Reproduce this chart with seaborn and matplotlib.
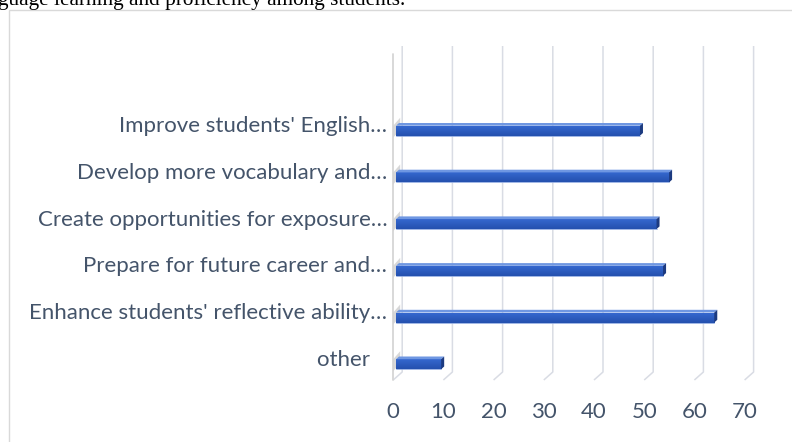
import matplotlib
matplotlib.use("Agg")
import matplotlib.pyplot as plt
import numpy as np
import pandas as pd
import seaborn as sns
from matplotlib.transforms import ScaledTranslation
from matplotlib.patches import Polygon, Rectangle

# ---- data -------------------------------------------------------------
categories = [
    "Improve students' English\u2026",
    "Develop more vocabulary and\u2026",
    "Create opportunities for exposure\u2026",
    "Prepare for future career and\u2026",
    "Enhance students' reflective ability\u2026",
    "other   ",
]
values = [48.6, 54.4, 51.9, 53.2, 63.4, 9.0]
x_ticks = [0, 10, 20, 30, 40, 50, 60, 70]
caption = "guage learning and proficiency among students."

# ---- styling ----------------------------------------------------------
W, H, DPI = 792, 442, 100
TXT = "#44546A"
GRID = "#D9DCE4"
FACE_TOP, FACE_BOT = "#3568CF", "#2450AE"
TOP_FACE = "#6F97E2"
SIDE_FACE = "#1C3A80"

sns.set_theme(style="white")
plt.rcParams["font.family"] = ["Lato", "DejaVu Sans"]

fig = plt.figure(figsize=(W / DPI, H / DPI), dpi=DPI)
fig.patch.set_facecolor("white")

# plot geometry (pixels)
PX0 = 393.2      # front-plane zero
PXU = 5.02       # pixels per unit on the value axis
XMAX = 76
TOP, BOT = 46, 380
ROW = 46.7
FIRST = 124.2
ax = fig.add_axes([PX0 / W, 1 - BOT / H, XMAX * PXU / W, (BOT - TOP) / H])

df = pd.DataFrame({"category": categories, "value": values})
sns.barplot(data=df, x="value", y="category", orient="h", width=10 / ROW,
            color=FACE_TOP, saturation=1, linewidth=0, ax=ax, zorder=3)

y_top = -(FIRST - TOP) / ROW
y_bot = (BOT - FIRST) / ROW
ax.set_xlim(0, XMAX)
ax.set_ylim(y_bot, y_top)

# conversions pixel -> data
ux = 1 / PXU
uy = 1 / ROW

# back-wall gridlines with floor return
BACK_DX, BACK_DY = 9, 8
for v in x_ticks:
    ax.plot([v + BACK_DX * ux, v + BACK_DX * ux, v],
            [y_top, y_bot - BACK_DY * uy, y_bot],
            color=GRID, lw=1.1, zorder=0, clip_on=False, solid_capstyle="butt")
# side wall
ax.plot([0, 0], [y_top + BACK_DY * uy, y_bot], color="#D6D6D6", lw=1.3,
        zorder=0, clip_on=False)

# bars: shift into the depth slot and add 3-D faces
shift = ScaledTranslation(2.8 / DPI, -6.5 / DPI, fig.dpi_scale_trans)
bar_tr = ax.transData + shift
DDX, DDY = 3 * ux, -2.7 * uy
grad = np.linspace(0, 1, 64).reshape(-1, 1)
cmap = matplotlib.colors.LinearSegmentedColormap.from_list("face", [FACE_TOP, FACE_BOT])
for p in list(ax.patches):
    p.set_transform(bar_tr)
    p.set_clip_on(False)
    x0, y0, w, h = p.get_x(), p.get_y(), p.get_width(), p.get_height()
    # gradient on front face
    im = ax.imshow(grad, cmap=cmap, aspect="auto", extent=(x0, x0 + w, y0 + h, y0),
                   transform=bar_tr, zorder=3.5, interpolation="bilinear")
    im.set_clip_path(p)
    # shadow sliver on the side wall
    ax.add_patch(Polygon([(0, y0 + h + 2 * uy), (0, y0), (7 * ux, y0 - 8 * uy),
                          (7 * ux, y0 + h - 6 * uy)], closed=True,
                         facecolor="#CFCFCF", edgecolor="none", alpha=0.8,
                         transform=ax.transData + ScaledTranslation(0, -6.5 / DPI, fig.dpi_scale_trans),
                         zorder=1, clip_on=False))
    ax.add_patch(Polygon([(x0, y0), (x0 + w, y0), (x0 + w + DDX, y0 + DDY),
                          (x0 + DDX, y0 + DDY)], closed=True, facecolor=TOP_FACE,
                         edgecolor="none", transform=bar_tr, zorder=4, clip_on=False))
    ax.add_patch(Polygon([(x0 + w, y0), (x0 + w, y0 + h), (x0 + w + DDX, y0 + h + DDY),
                          (x0 + w + DDX, y0 + DDY)], closed=True, facecolor=SIDE_FACE,
                         edgecolor="none", transform=bar_tr, zorder=4, clip_on=False))
    ax.plot([x0, x0 + w], [y0 + h, y0 + h], color="#8FA9E0", lw=0.6,
            transform=bar_tr, zorder=4, clip_on=False)

ax.set_xlim(0, XMAX)
ax.set_ylim(y_bot, y_top)

for s in ax.spines.values():
    s.set_visible(False)
ax.grid(False)
ax.set_xlabel("")
ax.set_ylabel("")
ax.set_xticks(x_ticks)
ax.set_xticklabels([str(t) for t in x_ticks])
ax.tick_params(axis="x", length=0, pad=16.2, labelsize=16, labelcolor=TXT)
ax.tick_params(axis="y", length=0, pad=4.25, labelsize=16, labelcolor=TXT)
ax.set_facecolor("none")

# chart frame
fig.add_artist(Rectangle((8.5 / W, -0.1), 1.2, 1 - 10 / H + 0.1, transform=fig.transFigure,
                         fill=False, edgecolor="#D9D9D9", lw=1.0))
# running text above the chart
fig.text(-0.002, 1 - 5 / H, caption, family=["Liberation Serif"], fontsize=15.3,
         color="black", va="baseline", ha="left")

fig.savefig("out.png", dpi=DPI)
